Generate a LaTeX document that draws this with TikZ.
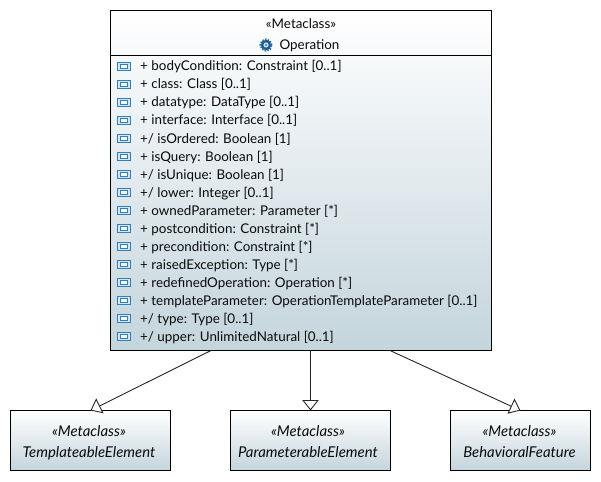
\documentclass[tikz,border=0pt]{standalone}
\usepackage{fontspec}
\setmainfont{Lato}
\usetikzlibrary{arrows.meta,calc}
\definecolor{boxend}{HTML}{C4D5DC}
\definecolor{iconblue}{HTML}{2F7FBF}
\definecolor{txt}{HTML}{0A0A0A}
\tikzset{
  x=1pt,y=-1pt,
  umlbox/.style={draw=black,line width=1pt,top color=white,bottom color=boxend,inner sep=0pt,outer sep=0pt,minimum width=#1,anchor=north west},
  lbl/.style={text=txt,font=\fontsize{13.4}{15}\selectfont,inner sep=0pt,anchor=base},
  attr/.style={text=txt,font=\fontsize{13.4}{15}\selectfont,inner sep=0pt,anchor=base west},
  absl/.style={text=txt,font=\fontsize{14.9}{16}\selectfont\itshape,inner sep=0pt,anchor=base},
  gen/.style={draw=black!85,line width=0.9pt,-{Triangle[open,fill=white,length=10.5pt,width=16.5pt,line width=0.9pt]}},
  iconout/.style={draw=iconblue,line width=1pt,fill=white!80!iconblue,minimum width=12.5pt,minimum height=8.5pt,inner sep=0pt},
  iconin/.style={draw=iconblue,line width=0.8pt,fill=white,minimum width=7pt,minimum height=3.5pt,inner sep=0pt},
}
\begin{document}
\begin{tikzpicture}
\useasboundingbox (0,0) rectangle (601,481);
\node[umlbox=381pt,minimum height=340pt] (main) at (110.5,10.5) {};
\draw[black,line width=1pt] ($(main.north west)+(0,45)$) coordinate (dl) -- ($(main.north east)+(0,45)$) coordinate (dr);
\node[lbl] (st) at (301,29) {«Metaclass»};
\node[lbl] (nm) at (309.5,50) {Operation};
% gear icon
\fill[iconblue!70!black] (266,45) circle (5.2pt);
\draw[iconblue!85!black,line width=2pt,dash pattern=on 1.5pt off 1.2pt] (266,45) circle (5.6pt);
\fill[white!75!iconblue] (266,45) circle (2.6pt);
\fill[iconblue] (266,45) circle (1.2pt);
\foreach \i/\t in {0/{+ bodyCondition: Constraint [0..1]},
 1/{+ class: Class [0..1]},
 2/{+ datatype: DataType [0..1]},
 3/{+ interface: Interface [0..1]},
 4/{+/ isOrdered: Boolean [1]},
 5/{+ isQuery: Boolean [1]},
 6/{+/ isUnique: Boolean [1]},
 7/{+/ lower: Integer [0..1]},
 8/{+ ownedParameter: Parameter [*]},
 9/{+ postcondition: Constraint [*]},
 10/{+ precondition: Constraint [*]},
 11/{+ raisedException: Type [*]},
 12/{+ redefinedOperation: Operation [*]},
 13/{+ templateParameter: OperationTemplateParameter [0..1]},
 14/{+/ type: Type [0..1]},
 15/{+/ upper: UnlimitedNatural [0..1]}}{
  \node[iconout] (io\i) at (123.8,66.5+18*\i) {};
  \node[iconin] (ii\i) at (123.8,66.5+18*\i) {};
  \node[attr] (a\i) at (140,71+18*\i) {\t};
}
\node[umlbox=160pt,minimum height=60pt] (te) at (10.5,410.5) {};
\node[umlbox=160pt,minimum height=60pt] (pe) at (230.5,410.5) {};
\node[umlbox=140pt,minimum height=60pt] (bf) at (450.5,410.5) {};
\node[absl] (te1) at (89,436.5) {«Metaclass»};
\node[absl] (te2) at (89,457.5) {TemplateableElement};
\node[absl] (pe1) at (308,436.5) {«Metaclass»};
\node[absl] (pe2) at (308,457.5) {ParameterableElement};
\node[absl] (bf1) at (519.5,436.5) {«Metaclass»};
\node[absl] (bf2) at (519.5,457.5) {BehavioralFeature};
\coordinate (c1) at ($(main.south west)+(100.5,0)$);
\coordinate (c2) at ($(main.south west)+(200,0)$);
\coordinate (c3) at ($(main.south west)+(279.5,0)$);
\draw[gen] (c1) -- (te.north);
\draw[gen] (c2) -- (pe.north);
\draw[gen] (c3) -- (bf.north);
\end{tikzpicture}
\end{document}
